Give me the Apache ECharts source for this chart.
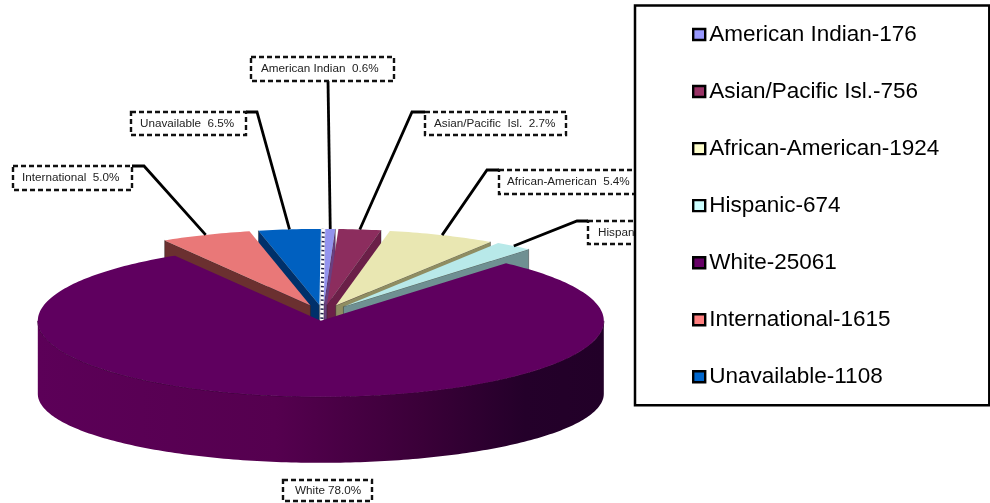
<!DOCTYPE html>
<html>
<head>
<meta charset="utf-8">
<style>html,body{margin:0;padding:0;background:#fff}#c{width:990px;height:503px}</style>
<script src="https://cdn.jsdelivr.net/npm/echarts@6/dist/echarts.min.js"></script>
</head>
<body>
<div id="c"></div>
<script>
// ---- data ----
var categories = ['American Indian','Asian/Pacific Isl.','African-American','Hispanic','White','International','Unavailable'];
var counts = [176,756,1924,674,25061,1615,1108];
var percentLabels = ['American Indian  0.6%','Asian/Pacific  Isl.  2.7%','African-American  5.4%','Hispanic  2.2%','White 78.0%','International  5.0%','Unavailable  6.5%'];
// ---- styles ----
var legendColors = ['#9999ff','#993366','#ffffcc','#ccffff','#660066','#ff8080','#0066cc'];
var topColors = ['#9393ee','#8c2d5e','#e9e7b2','#b8e9e9','#5f005f','#e97878','#0060c0'];
var wallColors = ['#6a3f80','#6b1f48','#8f8d62','#6f9092','#4a004a','#6b3030','#00306a'];
var explode = [0.12,0.12,0.12,0.12,0.09,0.12,0.12];
var wallSide = ['end','end','end','end','none','start','start'];
var paintOrder = [0,6,5,1,2,3,4];
// label boxes: [x, y, w, h, elbowX, elbowY, firstLeaderX, firstLeaderY, textPad]
var labelBoxes = [
  [251,57,143,24, 328,81, 328,81, 10],
  [425,112,141,23, 412,112, 425,112, 9],
  [499,170,141,24, 487,170, 499,170, 8],
  [588,221,130,23, 577,221, 588,221, 10],
  [283,480,89,21, null,null,null,null, 12],
  [13,166,119,24, 144,166, 132,166, 9],
  [131,112,115,23, 257,112, 246,112, 9]
];
var CX=323, CY=314, RX=283, RY=76, START=0.3, SIDE_H=44;
var FRONT_DROP=77, BOTTOM_RY=69;
var total = counts.reduce(function(a,b){return a+b},0);
var spans=[], acc=START;
counts.forEach(function(v){var s=v/total*360; spans.push([acc,acc+s]); acc+=s;});
function rad(d){return d*Math.PI/180}
function apex(i){
  var m=rad((spans[i][0]+spans[i][1])/2);
  return [CX+Math.sin(m)*RX*explode[i], CY-Math.cos(m)*RY*explode[i]];
}
function rim(a,deg){var r=rad(deg);return [a[0]+Math.sin(r)*RX, a[1]-Math.cos(r)*RY];}
function arc(a,d0,d1){var n=Math.max(2,Math.ceil(Math.abs(d1-d0)));var p=[];for(var k=0;k<=n;k++){p.push(rim(a,d0+(d1-d0)*k/n));}return p;}
function renderSlice(i){
  var a=apex(i), s=spans[i], kids=[];
  if(i===4){
    var topFront=arc(a,90,270);
    var bottom=topFront.map(function(p,k){
      var t=rad(90+180*k/(topFront.length-1));
      return [p[0], a[1]-4+FRONT_DROP-Math.cos(t)*BOTTOM_RY];
    });
    kids.push({type:'polygon',shape:{points:topFront.concat(bottom.reverse())},style:{
      fill:new echarts.graphic.LinearGradient(0,0,1,0,[
        {offset:0,color:'#5c0058'},{offset:0.42,color:'#55004f'},{offset:0.68,color:'#3a0038'},{offset:0.86,color:'#24002a'},{offset:1,color:'#220028'}])}});
    kids.push({type:'polyline',shape:{points:arc(a,90,270)},style:{fill:null,stroke:'#3a0038',lineWidth:1}});
  } else if(wallSide[i]!=='none'){
    var r=rim(a,wallSide[i]==='start'?s[0]:s[1]);
    kids.push({type:'polygon',shape:{points:[[a[0],a[1]],r,[r[0],r[1]+SIDE_H],[a[0],a[1]+SIDE_H]]},style:{fill:wallColors[i],stroke:'#222',lineWidth:0.4}});
  }
  kids.push({type:'polygon',shape:{points:[a].concat(arc(a,s[0],s[1]))},style:{fill:topColors[i]}});
  if(i===0){
    // speckled seam along the slice's leading edge
    var e0=rim(a,s[0]), seam=[[e0[0]-2,e0[1]],[a[0]-2,a[1]+16]];
    kids.push({type:'polyline',shape:{points:seam},style:{fill:null,stroke:'#20204a',lineWidth:3}});
    kids.push({type:'polyline',shape:{points:seam},style:{fill:null,stroke:'#fff',lineWidth:3.4,lineDash:[3,1.5]}});
  }
  var b=labelBoxes[i];
  if(b[4]!==null){
    var mid=rim(a,(s[0]+s[1])/2);
    kids.push({type:'polyline',shape:{points:[[b[6],b[7]],[b[4],b[5]],mid]},style:{fill:null,stroke:'#000',lineWidth:2.8}});
  }
  kids.push({type:'rect',shape:{x:b[0],y:b[1],width:b[2],height:b[3]},style:{fill:'#fff',stroke:'#111',lineWidth:2.4,lineDash:[5,3]}});
  kids.push({type:'text',style:{x:b[0]+b[8],y:b[1]+b[3]/2,text:percentLabels[i],fill:'#222',font:'11.7px "Liberation Sans", Arial',align:'left',verticalAlign:'middle'}});
  return {type:'group',children:kids};
}
var series = paintOrder.map(function(i){
  return {
    type:'custom', name:categories[i]+'-'+counts[i], coordinateSystem:'none',
    data:[[counts[i]]], animation:false, silent:true, z:2,
    itemStyle:{color:legendColors[i]},
    renderItem:function(){return renderSlice(i);}
  };
});
var chart = echarts.init(document.getElementById('c'));
chart.setOption({
  animation:false,
  backgroundColor:'#fff',
  legend:{
    orient:'vertical', left:635, top:5.5, z:10, selectedMode:false,
    data:categories.map(function(c,i){return c+'-'+counts[i];}),
    itemWidth:12, itemHeight:11, itemGap:34.05, icon:'rect',
    itemStyle:{borderColor:'#000',borderWidth:2.4},
    textStyle:{color:'#000',fontSize:22.5,fontFamily:'"Liberation Sans", Arial',padding:[0,0,0,-1]},
    backgroundColor:'#fff', borderColor:'#000', borderWidth:2.5,
    padding:[17.5,50,17,57]
  },
  series:series
});
</script>
</body>
</html>
